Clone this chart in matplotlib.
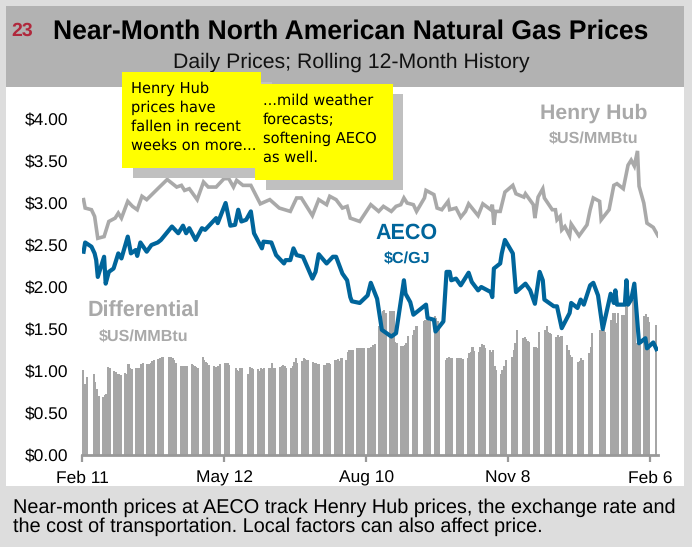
#!/usr/bin/python3
import matplotlib
matplotlib.use('Agg')
import matplotlib.pyplot as plt
from matplotlib.patches import Rectangle

nan = float('nan')
W, H = 692, 547

# Henry Hub line, days since Feb 11
henry_days = [1, 2, 6, 8, 10, 14, 17, 21, 23, 25, 29, 32, 35, 38, 41, 48, 54, 60, 63, 65, 68, 73, 77, 80, 85, 90, 93,
              96, 98, 102, 107, 113, 119, 125, 132, 136, 139, 146, 150, 155, 157, 161, 165, 168, 170, 176, 183, 188,
              191, 196, 199, 202, 204, 206, 210, 212, 217, 218, 223, 225, 228, 232, 233, 237, 240, 243, 245, 251,
              254, 259, 260, 261, 262, 265, 268, 273, 275, 280, 281, 286, 287, 289, 292, 293, 298, 300, 301, 303,
              304, 306, 309, 310, 315, 320, 322, 324, 328, 329, 334, 337, 339, 343, 346, 348, 350, 352, 353, 356,
              358, 362, 365]
henry_vals = [3.04, 2.94, 2.92, 2.84, 2.58, 2.60, 2.78, 2.82, 2.88, 2.82, 3.02, 2.96, 2.92, 3.08, 3.04, 3.17, 3.28,
              3.19, 3.21, 3.15, 3.17, 3.04, 3.25, 3.19, 3.19, 3.29, 3.29, 3.19, 3.27, 3.21, 3.21, 2.99, 3.04, 2.94,
              2.90, 3.06, 3.06, 2.85, 3.04, 2.98, 3.08, 3.04, 2.94, 2.96, 2.82, 2.78, 2.98, 2.90, 2.96, 2.90, 2.96,
              2.98, 3.06, 3.00, 2.98, 2.90, 3.06, 3.15, 3.10, 2.94, 2.92, 3.02, 2.92, 2.94, 2.83, 2.90, 2.99, 2.85,
              2.99, 2.92, 2.98, 2.74, 2.90, 2.90, 3.13, 3.21, 3.11, 3.07, 3.11, 2.98, 2.82, 3.07, 3.17, 3.06, 2.92,
              2.92, 2.80, 2.84, 2.68, 2.72, 2.61, 2.75, 2.61, 2.74, 2.92, 3.06, 3.02, 2.80, 2.92, 3.21, 3.23, 3.17,
              3.45, 3.51, 3.44, 3.62, 3.20, 3.00, 2.76, 2.71, 2.61]

# AECO line
aeco_days = [1, 2, 6, 8, 9, 10, 14, 15, 17, 20, 23, 25, 29, 31, 34, 35, 37, 41, 44, 48, 50, 57, 61, 64, 66, 68, 72,
             76, 78, 85, 86, 91, 94, 97, 99, 101, 104, 107, 109, 114, 115, 120, 123, 128, 129, 132, 134, 136, 140,
             146, 148, 150, 155, 159, 161, 165, 168, 169, 170, 171, 176, 181, 183, 187, 190, 196, 199, 204, 205,
             208, 210, 218, 219, 223, 224, 229, 231, 233, 234, 237, 240, 245, 247, 251, 253, 259, 260, 261, 265,
             266, 268, 273, 275, 281, 284, 287, 290, 292, 293, 299, 301, 304, 309, 310, 314, 316, 318, 322, 324,
             327, 330, 335, 337, 338, 339, 344, 345, 346, 348, 350, 353, 357, 358, 362, 364]
aeco_vals = [2.42, 2.53, 2.48, 2.40, 2.32, 2.12, 2.36, 2.04, 2.18, 2.22, 2.40, 2.34, 2.60, 2.40, 2.44, 2.37, 2.53,
             2.42, 2.50, 2.53, 2.56, 2.72, 2.64, 2.73, 2.64, 2.70, 2.56, 2.70, 2.68, 2.82, 2.76, 3.00, 2.73, 2.74,
             2.92, 2.78, 2.80, 2.90, 2.64, 2.46, 2.54, 2.53, 2.38, 2.28, 2.32, 2.32, 2.46, 2.38, 2.36, 2.10, 2.18,
             2.39, 2.28, 2.36, 2.36, 2.16, 2.08, 1.98, 1.88, 1.83, 1.81, 1.90, 2.05, 1.86, 1.49, 1.41, 1.45, 2.08,
             1.92, 1.82, 1.67, 1.79, 1.63, 1.61, 1.47, 1.59, 2.18, 2.18, 2.08, 2.10, 2.02, 2.17, 2.06, 1.96, 2.00,
             1.94, 1.88, 2.22, 2.28, 2.40, 2.56, 2.40, 1.94, 2.04, 1.96, 1.80, 2.18, 2.08, 1.85, 1.77, 1.77, 1.51,
             1.69, 1.81, 1.75, 1.85, 1.79, 2.02, 2.05, 1.90, 1.50, 1.92, 1.81, 1.96, 1.79, 1.79, 2.08, 1.79, 1.85,
             2.04, 1.33, 1.39, 1.27, 1.34, 1.26]

# Differential bars, one list per week (Mon-Fri), nan where there is no bar
diff_weeks = [
    [nan, 1.01, .85, .85, .93], [nan, .96, .87, .79, .70], [.69, .71, .73, 1.05, 1.03], [1.00, .99, .97, .96, .95],
    [.98, .96, 1.08, 1.04, 1.02], [1.03, 1.03, 1.04, 1.08, 1.10], [1.08, 1.08, 1.10, 1.12, 1.13],
    [1.14, 1.15, 1.17, 1.17, nan], [1.17, 1.17, 1.16, 1.13, 1.09], [1.06, 1.06, 1.06, 1.06, 1.06],
    [1.08, 1.07, 1.06, 1.05, 1.04], [1.17, 1.13, 1.11, 1.09, 1.07], [1.06, 1.05, 1.05, 1.06, 1.08],
    [1.10, 1.10, 1.10, 1.07, nan], [1.03, 1.01, 1.00, 1.03, 1.03], [nan, .96, 1.05, 1.03, 1.02],
    [1.02, 1.00, 1.03, 1.02, 1.03], [1.03, 1.04, 1.10, 1.04, 1.04], [1.05, 1.06, 1.07, 1.06, 1.04],
    [1.04, 1.06, 1.11, 1.15, 1.09], [1.12, 1.15, 1.14, 1.13, 1.13], [1.11, 1.09, 1.09, 1.08, 1.08],
    [1.07, 1.07, 1.09, 1.10, 1.08], [1.13, 1.13, 1.14, 1.12, 1.15], [1.13, 1.23, 1.25, 1.25, 1.25],
    [1.27, 1.27, 1.27, 1.27, 1.27], [1.27, 1.27, 1.29, 1.31, 1.32], [1.53, 1.65, 1.71, 1.73, 1.69],
    [1.72, 1.72, 1.72, 1.34, 1.33], [1.30, 1.30, 1.31, 1.33, 1.42], [1.43, 1.49, 1.53, 1.54, nan],
    [1.59, 1.61, 1.61, 1.61, 1.59], [1.65, 1.63, 1.60, 1.56, nan], [1.13, 1.15, 1.17, 1.15, 1.15],
    [1.15, 1.15, 1.15, 1.15, 1.14], [1.15, 1.21, 1.23, 1.29, 1.24], [1.23, 1.29, 1.32, 1.31, 1.27],
    [1.25, 1.23, 1.25, 1.06, 1.01], [.96, 1.01, 1.06, 1.13, nan], [1.17, 1.25, 1.33, 1.49, nan],
    [1.39, 1.41, 1.38, 1.36, 1.35], [1.29, 1.28, 1.27, 1.47, nan], [1.49, 1.54, 1.47, 1.45, 1.44],
    [1.40, 1.43, 1.41, 1.42, 1.42], [1.31, 1.25, 1.19, 1.17, nan], [1.11, 1.12, 1.15, 1.13, nan],
    [1.21, 1.29, 1.45, nan, nan], [1.49, 1.49, 1.49, 1.47, nan], [1.61, 1.69, 1.69, 1.57, 1.69],
    [1.67, 1.67, 1.85, 1.85, nan], [1.85, 1.85, 1.33, 1.31, 1.31], [1.66, 1.68, 1.64, 1.58, nan], [1.55],
]

x_ticks = [0, 90, 180, 270, 360]
x_labels = ['Feb 11', 'May 12', 'Aug 10', 'Nov 8', 'Feb 6']
y_ticks = [0, .5, 1, 1.5, 2, 2.5, 3, 3.5, 4]
y_labels = ['$%.2f' % v for v in y_ticks]

GREY = '#a9a9a9'
BLUE = '#00659b'
plt.rcParams['font.family'] = ['Liberation Sans', 'DejaVu Sans']
plt.rcParams['text.parse_math'] = False
plt.rcParams['text.hinting'] = 'no_hinting'

fig = plt.figure(figsize=(W / 100, H / 100), dpi=100, facecolor='#dddddd')


# figure helpers in reference pixels
def box(x0, y0, x1, y1, color, z):
    fig.add_artist(Rectangle((x0 / W, 1 - y1 / H), (x1 - x0) / W, (y1 - y0) / H, transform=fig.transFigure,
                             facecolor=color, edgecolor='none', zorder=z))


def label(x, y, s, **kw):
    kw.setdefault('ha', 'center')
    kw.setdefault('va', 'center')
    fig.text(x / W, 1 - y / H, s, **kw)


box(6, 6, 684, 87, '#b2b2b2', -2)
box(6, 87, 684, 486, 'white', -2)

ax = fig.add_axes([82 / W, 1 - 455 / H, 576 / W, 336 / H])
ax.patch.set_alpha(0)

# bars, a bit wider than one day so a week reads as one block
for k, week in enumerate(diff_weeks):
    days = [7 * k - 1.2 + i for i in range(len(week))]
    ax.bar(days, week, width=1.3, align='edge', color='#a6a6a6', linewidth=0, antialiased=False, zorder=1)

ax.plot(henry_days, henry_vals, color=GREY, lw=2.6, solid_joinstyle='miter', zorder=2)
ax.plot(aeco_days, aeco_vals, color=BLUE, lw=3.0, zorder=3)

ax.set_xlim(0, 365)
ax.set_ylim(0, 4)
ax.set_xticks(x_ticks)
ax.set_xticklabels(x_labels, fontsize=12.5)
ax.set_yticks(y_ticks)
ax.set_yticklabels(y_labels, fontsize=12.5)
ax.tick_params(axis='y', length=0, pad=9.5)
ax.tick_params(axis='x', length=5, width=1.6, color='#999999', pad=6)
for s in ['top', 'right', 'left']:
    ax.spines[s].set_visible(False)
ax.spines['bottom'].set_color('#999999')
ax.spines['bottom'].set_linewidth(2)

# header
label(11, 31, '23', color='#b0283c', fontsize=14, fontweight='bold', ha='left')
label(351, 32, 'Near-Month North American Natural Gas Prices', fontsize=19.1, fontweight='bold', color='black')
label(351, 62, 'Daily Prices; Rolling 12-Month History', fontsize=15.3, color='#111111')

# series names
label(594, 113, 'Henry Hub', color=GREY, fontsize=15.3, fontweight='bold')
label(594, 140, '$US/MMBtu', color=GREY, fontsize=11.6, fontweight='bold')
label(407, 233, 'AECO', color=BLUE, fontsize=15.5, fontweight='bold')
label(407, 260, '$C/GJ', color=BLUE, fontsize=11.6, fontweight='bold')
label(144, 311, 'Differential', color=GREY, fontsize=15.5, fontweight='bold')
label(144, 338, '$US/MMBtu', color=GREY, fontsize=11.6, fontweight='bold')

# notes
box(133, 82, 272, 178, '#c0c0c0', 4)
box(122, 72, 261, 168, '#ffff00', 5)
box(266, 94, 403, 190, '#c0c0c0', 6)
box(255, 84, 393, 180, '#ffff00', 7)
for y, s in zip([89, 108, 127, 146], ['Henry Hub', 'prices have', 'fallen in recent', 'weeks on more...']):
    label(131, y, s, ha='left', fontsize=10.5, family=['DejaVu Sans'], zorder=8)
for y, s in zip([101, 120, 139, 158], ['...mild weather', 'forecasts;', 'softening AECO', 'as well.']):
    label(263, y, s, ha='left', fontsize=10.5, family=['DejaVu Sans'], zorder=8)

# footer
label(13, 513, 'Near-month prices at AECO track Henry Hub prices, the exchange rate and', ha='left', va='baseline', fontsize=14.3, color='black')
label(13, 532, 'the cost of transportation. Local factors can also affect price.', ha='left', va='baseline', fontsize=14.3, color='black')

fig.savefig('out.png', dpi=100, facecolor=fig.get_facecolor())
